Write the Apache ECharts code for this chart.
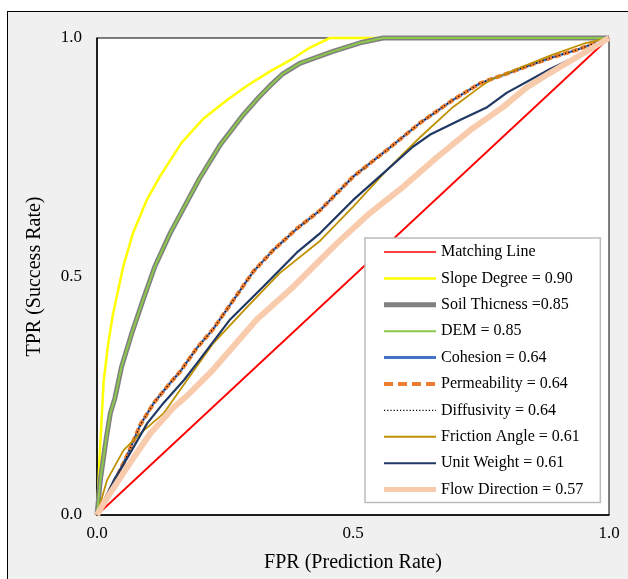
<!DOCTYPE html>
<html>
<head>
<meta charset="utf-8">
<script src="https://cdn.jsdelivr.net/npm/echarts@6/dist/echarts.min.js"></script>
<style>
html,body{margin:0;padding:0;background:#fff;}
#wrap{position:relative;width:628px;height:579px;overflow:hidden;background:#fff;}
#frame{position:absolute;left:7px;top:11px;width:700px;height:700px;border:1px solid #000;background:#f0f0f0;}
#chart{position:absolute;left:0;top:0;width:628px;height:579px;}
</style>
</head>
<body>
<div id="wrap"><div id="frame"></div><div id="chart"></div></div>
<script>
const seriesNames = ['Matching Line','Slope Degree = 0.90','Soil Thicness =0.85','DEM = 0.85','Cohesion = 0.64','Permeability = 0.64','Diffusivity = 0.64','Friction Angle = 0.61','Unit Weight = 0.61','Flow Direction = 0.57'];
const axisTicks = [0, 0.5, 1.0];

const matching = [[0,0],[1,1]];
const slopeDegree = [[0,0],[0.003,0.07],[0.006,0.14],[0.013,0.28],[0.022,0.36],[0.031,0.42],[0.051,0.52],[0.07,0.59],[0.097,0.66],[0.123,0.71],[0.165,0.78],[0.207,0.83],[0.254,0.87],[0.293,0.9],[0.338,0.93],[0.38,0.955],[0.416,0.98],[0.455,1.0],[1,1]];
const soilThickness = [[0,0],[0.0065,0.073],[0.018,0.16],[0.026,0.213],[0.035,0.245],[0.048,0.311],[0.068,0.381],[0.09,0.451],[0.113,0.521],[0.143,0.591],[0.175,0.655],[0.2,0.705],[0.24,0.775],[0.285,0.838],[0.318,0.878],[0.338,0.9],[0.363,0.925],[0.396,0.947],[0.461,0.972],[0.514,0.99],[0.559,1.0],[1,1]];
const dem = [[0,0],[0.0065,0.073],[0.018,0.16],[0.026,0.213],[0.035,0.245],[0.048,0.311],[0.068,0.381],[0.09,0.451],[0.113,0.521],[0.143,0.591],[0.175,0.655],[0.2,0.705],[0.24,0.775],[0.285,0.838],[0.318,0.878],[0.338,0.9],[0.363,0.925],[0.396,0.947],[0.461,0.972],[0.514,0.99],[0.559,1.0],[1,1]];
const cohesion = [[0,0],[0.039,0.08],[0.059,0.125],[0.085,0.19],[0.111,0.235],[0.143,0.277],[0.162,0.3],[0.195,0.35],[0.227,0.39],[0.266,0.45],[0.305,0.51],[0.344,0.555],[0.39,0.6],[0.436,0.639],[0.5,0.709],[0.566,0.765],[0.631,0.822],[0.695,0.87],[0.748,0.905],[0.82,0.933],[0.885,0.958],[0.937,0.975],[1,1]];
const permeability = [[0,0],[0.039,0.08],[0.059,0.125],[0.085,0.19],[0.111,0.235],[0.143,0.277],[0.162,0.3],[0.195,0.35],[0.227,0.39],[0.266,0.45],[0.305,0.51],[0.344,0.555],[0.39,0.6],[0.436,0.639],[0.5,0.709],[0.566,0.765],[0.631,0.822],[0.695,0.87],[0.748,0.905],[0.82,0.933],[0.885,0.958],[0.937,0.975],[1,1]];
const diffusivity = [[0,0],[0.039,0.08],[0.059,0.125],[0.085,0.19],[0.111,0.235],[0.143,0.277],[0.162,0.3],[0.195,0.35],[0.227,0.39],[0.266,0.45],[0.305,0.51],[0.344,0.555],[0.39,0.6],[0.436,0.639],[0.5,0.709],[0.566,0.765],[0.631,0.822],[0.695,0.87],[0.748,0.905],[0.82,0.933],[0.885,0.958],[0.937,0.975],[1,1]];
const frictionAngle = [[0,0],[0.0195,0.073],[0.052,0.136],[0.085,0.171],[0.13,0.213],[0.176,0.283],[0.227,0.36],[0.293,0.436],[0.357,0.507],[0.436,0.575],[0.5,0.646],[0.566,0.723],[0.631,0.792],[0.695,0.855],[0.748,0.897],[0.768,0.912],[0.82,0.935],[0.885,0.963],[0.95,0.988],[1,1]];
const unitWeight = [[0,0],[0.033,0.073],[0.065,0.13],[0.098,0.192],[0.13,0.235],[0.17,0.283],[0.195,0.318],[0.26,0.41],[0.324,0.478],[0.39,0.55],[0.436,0.591],[0.5,0.66],[0.566,0.723],[0.617,0.772],[0.65,0.797],[0.709,0.828],[0.762,0.855],[0.8,0.885],[0.885,0.935],[0.95,0.968],[1,1]];
const flowDirection = [[0,0],[0.016,0.03],[0.065,0.11],[0.104,0.171],[0.15,0.226],[0.176,0.25],[0.227,0.305],[0.312,0.41],[0.383,0.478],[0.469,0.57],[0.533,0.633],[0.598,0.688],[0.664,0.75],[0.729,0.807],[0.793,0.855],[0.84,0.897],[0.885,0.927],[0.95,0.968],[1,1]];

const seriesData = [matching, slopeDegree, soilThickness, dem, cohesion, permeability, diffusivity, frictionAngle, unitWeight, flowDirection];
const styles = [
  {color:'#ff0000', width:1.8, type:'solid'},
  {color:'#ffff00', width:2.5, type:'solid'},
  {color:'#808080', width:5, type:'solid'},
  {color:'#8cc84b', width:2, type:'solid'},
  {color:'#4472c4', width:2.5, type:'solid'},
  {color:'#ed7d31', width:4, type:[6,3]},
  {color:'#000000', width:1.2, type:[1.2,2.2]},
  {color:'#bf9000', width:1.8, type:'solid'},
  {color:'#1f3864', width:2.2, type:'solid'},
  {color:'#f8cbad', width:6, type:'solid'}
];
const legendWidths = [1.5, 2.5, 5, 2, 3, 4, 1.2, 2, 2, 5];
const legendTypes = ['solid','solid','solid','solid','solid',[9,5],[1.2,2],'solid','solid','solid'];

const font = 'Liberation Serif';
const chart = echarts.init(document.getElementById('chart'), null, {renderer:'canvas'});
chart.setOption({
  animation:false,
  backgroundColor:'transparent',
  grid:{left:97, top:38, right:19, bottom:64, show:true, backgroundColor:'#ffffff', borderColor:'#000', borderWidth:1},
  xAxis:{
    type:'value', min:axisTicks[0], max:axisTicks[2], interval:0.5,
    name:'FPR (Prediction Rate)', nameLocation:'middle', nameGap:38,
    nameTextStyle:{fontFamily:font, fontSize:20, color:'#000'},
    axisLine:{show:true, lineStyle:{color:'#000', width:1.5}},
    axisTick:{show:false}, splitLine:{show:false},
    axisLabel:{fontFamily:font, fontSize:17, color:'#000', margin:10, formatter:v=>v.toFixed(1)}
  },
  yAxis:{
    type:'value', min:axisTicks[0], max:axisTicks[2], interval:0.5,
    name:'TPR (Success Rate)', nameLocation:'middle', nameGap:52, nameRotate:90,
    nameTextStyle:{fontFamily:font, fontSize:20, color:'#000'},
    axisLine:{show:true, lineStyle:{color:'#000', width:1.5}},
    axisTick:{show:false}, splitLine:{show:false},
    axisLabel:{fontFamily:font, fontSize:17, color:'#000', margin:15, formatter:v=>v.toFixed(1)}
  },
  legend:{
    orient:'vertical', left:365, top:238,
    padding:[6,17,5,16.5], itemGap:10.4, itemWidth:52, itemHeight:14,
    backgroundColor:'#fff', borderColor:'#bcbcbc', borderWidth:1.5,
    textStyle:{fontFamily:font, fontSize:16, color:'#000'},
    itemStyle:{opacity:0},
    data:seriesNames.map((n,i)=>({name:n, itemStyle:{opacity:0}, lineStyle:{width:legendWidths[i], type:legendTypes[i], color:styles[i].color}}))
  },
  series: seriesNames.map((n,i)=>({
    name:n, type:'line', data:seriesData[i], showSymbol:false, symbol:'none',
    clip:false, z:2+i,
    lineStyle:{color:styles[i].color, width:styles[i].width, type:styles[i].type},
    itemStyle:{color:styles[i].color}
  }))
});
</script>
</body>
</html>
